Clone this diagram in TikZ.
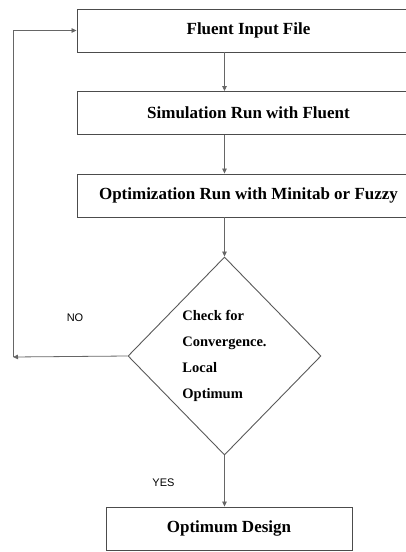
\documentclass[tikz,border=0pt]{standalone}
\usepackage{fontspec}
\setmainfont{Liberation Serif}
\newfontfamily\labelfont{Liberation Sans}
\usetikzlibrary{shapes.geometric,arrows.meta}

\tikzset{
  stepbox/.style={draw=black!70, line width=0.9pt, minimum width=343pt, minimum height=43pt,
    inner sep=0pt, font=\bfseries\fontsize{17}{19}\selectfont},
  checkbox/.style={draw=black!65, line width=0.9pt, diamond, aspect=1, inner sep=0pt,
    minimum width=193pt, minimum height=198pt, align=left,
    font=\bfseries\fontsize{14.5}{26}\selectfont},
  flow/.style={draw=black!60, line width=0.8pt, -{Triangle[length=5pt,width=4.5pt]}},
  answer/.style={font=\labelfont\fontsize{11}{12}\selectfont}
}

\begin{document}
\begin{tikzpicture}[x=1pt,y=-1pt]
    \useasboundingbox (0,0) rectangle (406,552);
    \node[stepbox] (fluent) at (248.5,30.5) {Fluent Input File};
    \node[stepbox] (simulation) at (248.5,113) {Simulation Run with Fluent};
    \node[stepbox] (optimization) at (248.5,195.5) {Optimization Run with Minitab or Fuzzy};
    \node[checkbox] (check) at (224.5,356) {Check for\\Convergence.\\Local\\Optimum};
    \node[stepbox, minimum width=246pt] (design) at (229,528.5) {Optimum Design};
    \coordinate (loop) at (13,357);
    \node[answer] (no) at (75,318) {NO};
    \node[answer] (yes) at (163.5,483) {YES};
    \draw[flow] (fluent.south -| check.north) -- (simulation.north -| check.north);
    \draw[flow] (simulation.south -| check.north) -- (optimization.north -| check.north);
    \draw[flow] (optimization.south -| check.north) -- (check.north);
    \draw[flow] (check.south) -- (design.north -| check.south);
    \draw[flow] (check.west) -- (loop);
    \draw[flow] (loop) |- (fluent.west);
\end{tikzpicture}
\end{document}
